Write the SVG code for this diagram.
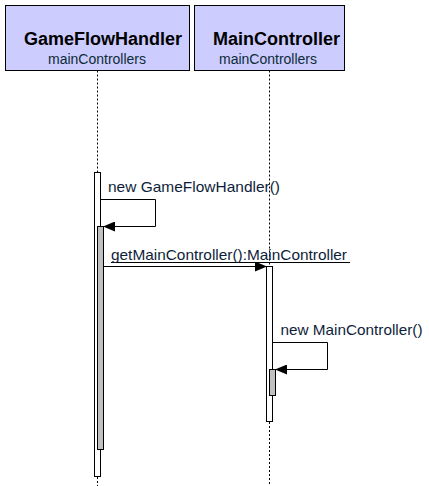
<svg xmlns="http://www.w3.org/2000/svg" width="429" height="486" viewBox="0 0 429 486">
<style>
.box{fill:#ccccff;stroke:#000;stroke-width:1}
.title{font-family:"Liberation Sans",Arial,sans-serif;font-weight:bold;font-size:18px;fill:#000}
.sub{font-family:"Liberation Sans",Arial,sans-serif;font-size:14px;fill:#0d2b38}
.msg{font-family:"Liberation Sans",Arial,sans-serif;font-size:15px;fill:#0e1e3a}
.life{stroke:#000;stroke-width:1;stroke-dasharray:2,2;fill:none}
.act{fill:#fff;stroke:#000;stroke-width:1}
.act2{fill:#c0c0c0;stroke:#000;stroke-width:1}
.line{stroke:#000;stroke-width:1;fill:none}
</style>
<defs>
<marker id="arr" markerWidth="12" markerHeight="10" refX="11" refY="5" orient="auto" markerUnits="userSpaceOnUse">
<path d="M0,0 L12,5 L0,10 Z" fill="#000"/>
</marker>
</defs>
<rect width="429" height="486" fill="#fff"/>
<g id="connectors">
<line class="life" x1="97.5" y1="70.5" x2="97.5" y2="172"/>
<line class="life" x1="97.5" y1="477" x2="97.5" y2="486"/>
<line class="life" x1="269.5" y1="70.5" x2="269.5" y2="266"/>
<line class="life" x1="269.5" y1="422" x2="269.5" y2="486"/>
<polyline class="line" points="100.5,199.5 155.5,199.5 155.5,226.5 104,226.5" marker-end="url(#arr)"/>
<line class="line" x1="103.5" y1="266.5" x2="266" y2="266.5" marker-end="url(#arr)"/>
<polyline class="line" points="272.5,342.5 327.5,342.5 327.5,369.5 276,369.5" marker-end="url(#arr)"/>
<line x1="111" y1="262.5" x2="350" y2="262.5" stroke="#000" stroke-width="1"/>
<text class="msg" x="108" y="192" textLength="172" lengthAdjust="spacingAndGlyphs">new GameFlowHandler()</text>
<text class="msg" x="111" y="260" textLength="236" lengthAdjust="spacingAndGlyphs">getMainController():MainController</text>
<text class="msg" x="280.5" y="335" textLength="142" lengthAdjust="spacingAndGlyphs">new MainController()</text>
</g>
<g id="GameFlowHandler">
<rect class="box" x="5.5" y="5.5" width="184" height="65"/>
<text class="title" x="24" y="45">GameFlowHandler</text>
<text class="sub" x="97" y="64" text-anchor="middle">mainControllers</text>
<rect class="act" x="94.5" y="172.5" width="6" height="304"/>
<rect class="act2" x="97.5" y="226.5" width="6" height="223"/>
</g>
<g id="MainController">
<rect class="box" x="194.5" y="5.5" width="150" height="65"/>
<text class="title" x="213" y="45">MainController</text>
<text class="sub" x="268" y="64" text-anchor="middle">mainControllers</text>
<rect class="act" x="266.5" y="266.5" width="6" height="155"/>
<rect class="act2" x="269.5" y="369.5" width="6" height="26"/>
</g>
</svg>
